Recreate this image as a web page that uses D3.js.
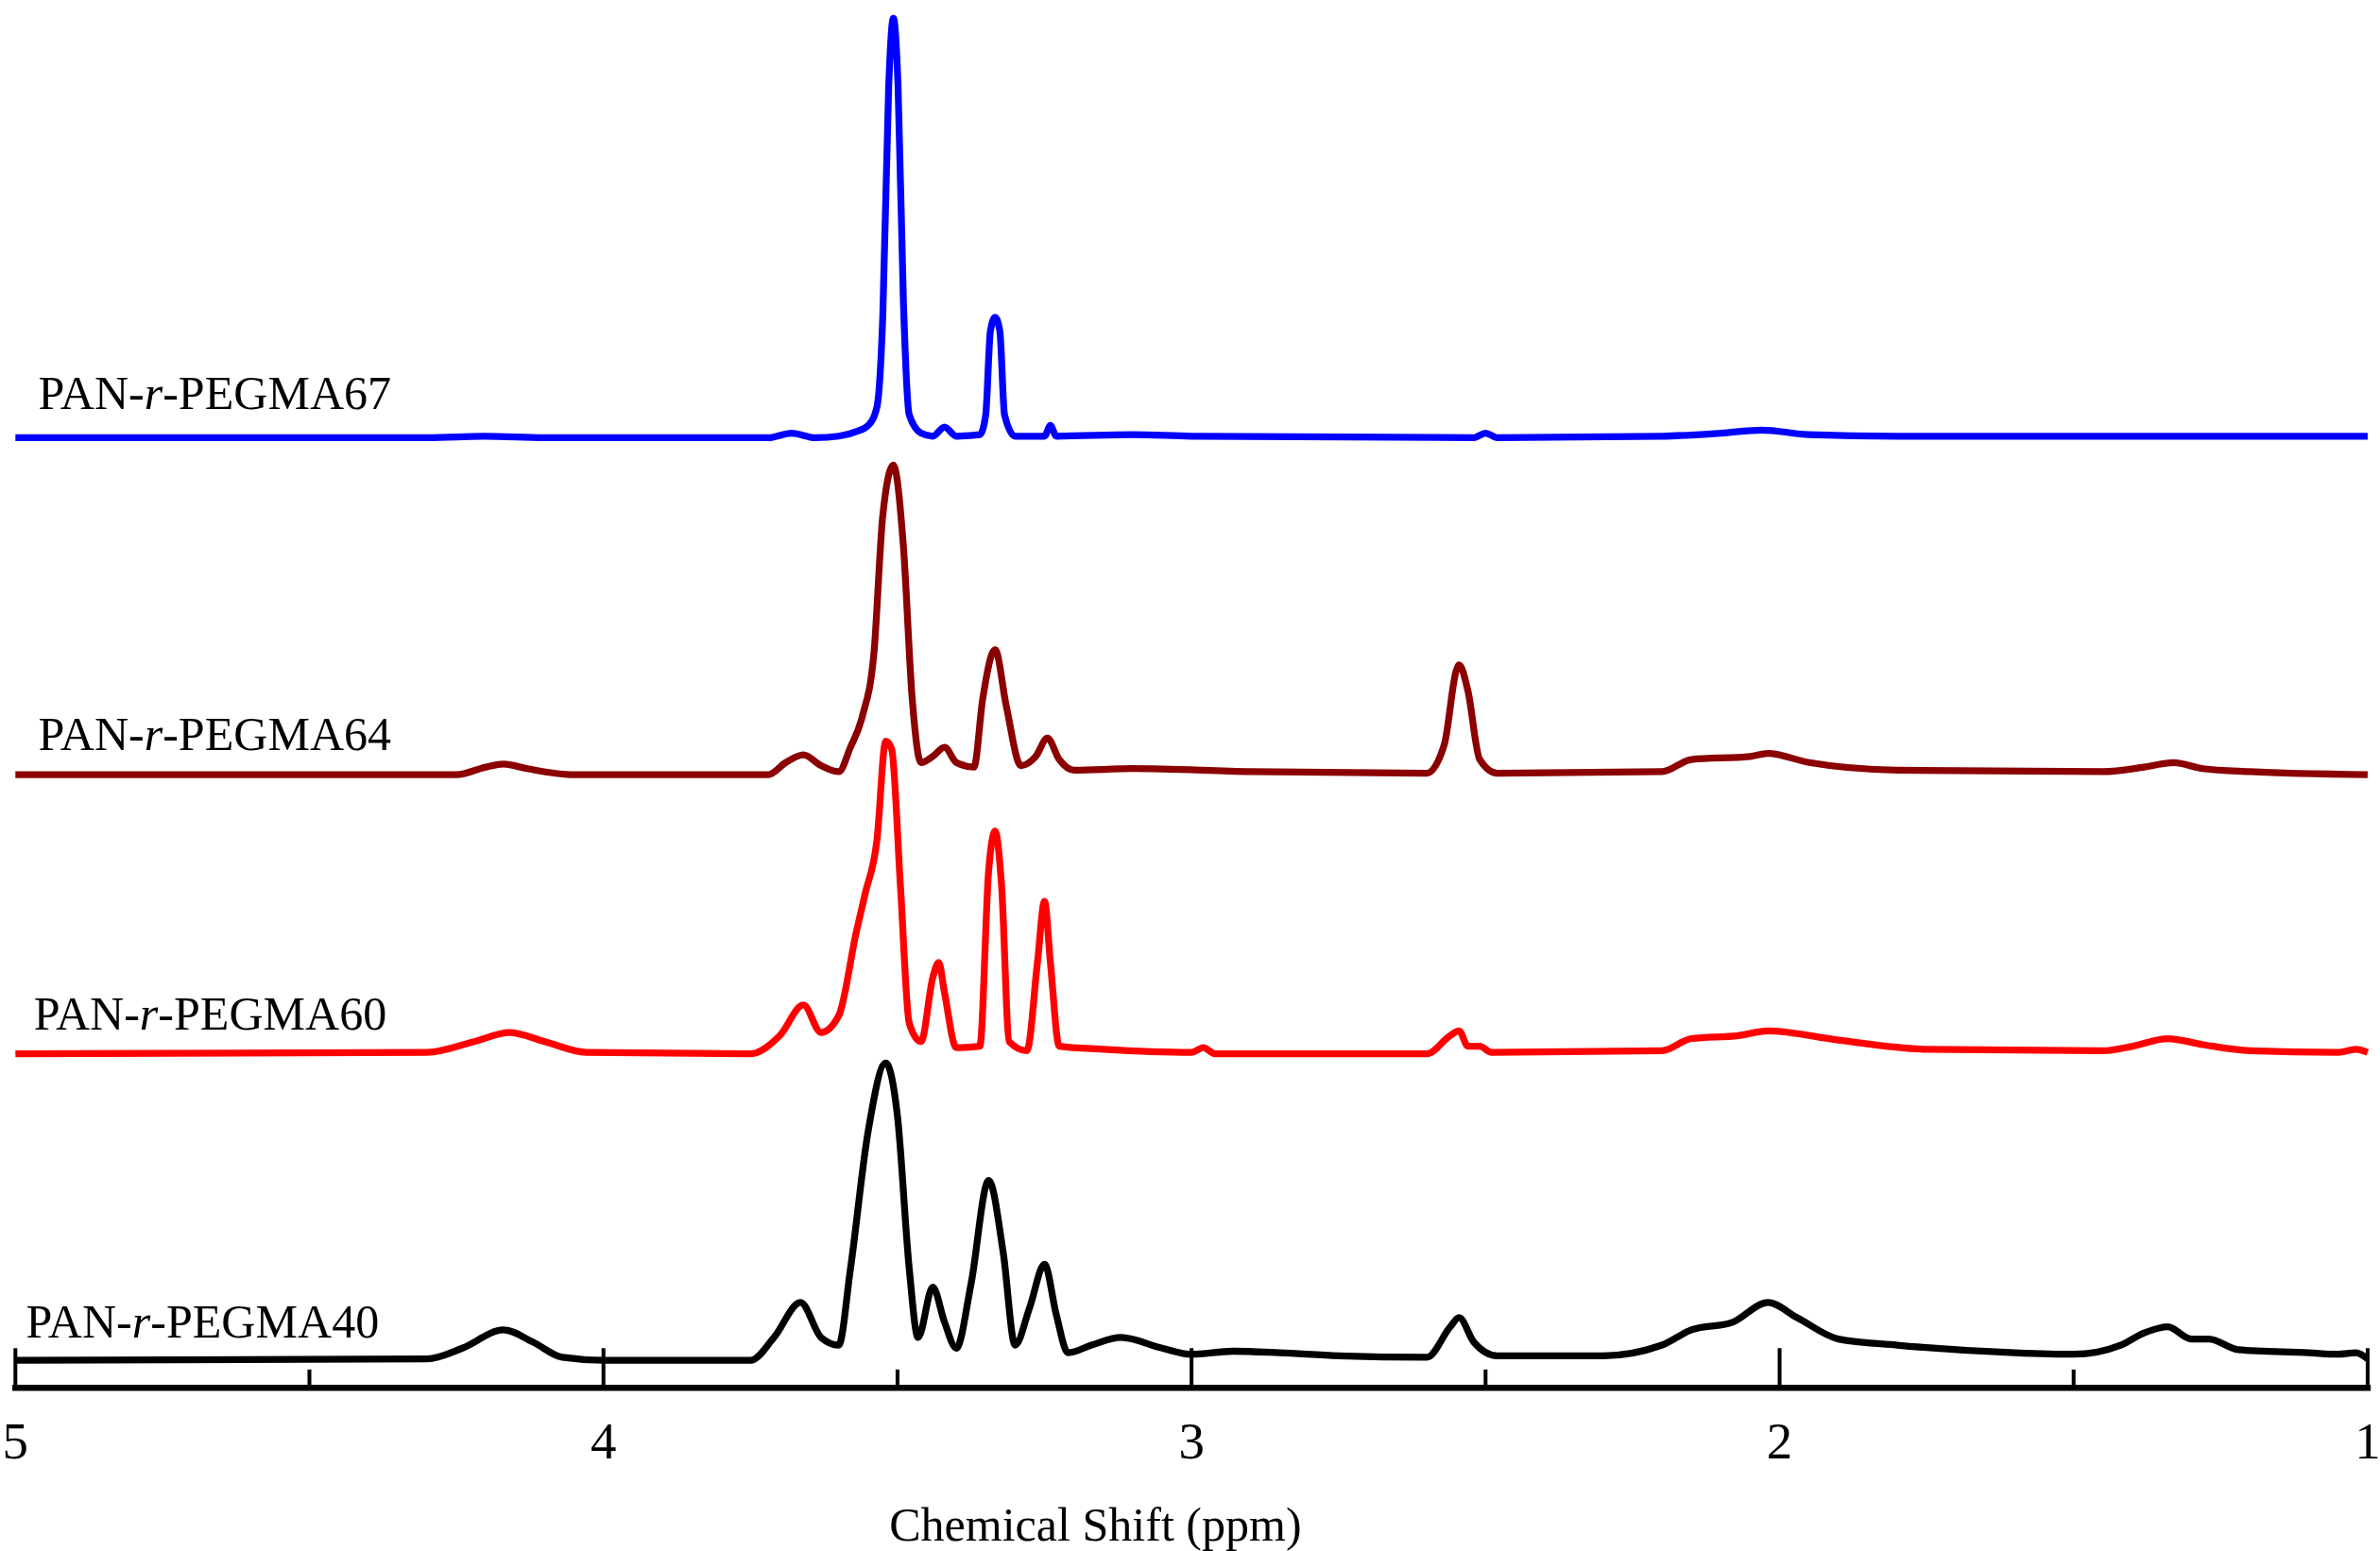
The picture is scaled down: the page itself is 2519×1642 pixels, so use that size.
<!DOCTYPE html>
<html><head><meta charset="utf-8">
<script src="https://cdn.jsdelivr.net/npm/d3@7"></script>
<style>body{margin:0;background:#fff}</style></head>
<body><svg id="c" width="2519" height="1642" viewBox="0 0 1560 1017"></svg>
<script>
const tickValues=[5,4,3,2,1];
const minorTicks=[4.5,3.5,2.5,1.5];
const seriesNames=["PAN-r-PEGMA67","PAN-r-PEGMA64","PAN-r-PEGMA60","PAN-r-PEGMA40"];
const seriesColors=["#0000ff","#8b0000","#ff0000","#000000"];
const blue=[[5,0],[4.3,0],[4.2,1],[4.1,0],[3.72,0],[3.68,3],[3.64,0],[3.6,1],[3.57,4],[3.55,8],[3.535,20],[3.525,80],[3.515,230],[3.507,275],[3.499,230],[3.49,90],[3.48,15],[3.46,3],[3.44,1],[3.42,7],[3.40,1],[3.36,2],[3.35,15],[3.342,70],[3.334,79],[3.326,70],[3.318,15],[3.30,1],[3.25,1],[3.24,8],[3.23,1],[3.1,2],[3,1],[2.52,0],[2.5,3],[2.48,0],[2.2,1],[2.1,3],[2.03,5],[1.95,2],[1.8,1],[1,1]];
const darkred=[[5,0],[4.25,0],[4.2,5],[4.17,7],[4.13,4],[4.05,0],[3.72,0],[3.69,8],[3.66,13],[3.63,6],[3.6,2],[3.58,18],[3.56,38],[3.54,80],[3.525,170],[3.507,203],[3.49,150],[3.475,50],[3.46,8],[3.44,12],[3.42,18],[3.40,8],[3.37,5],[3.355,50],[3.334,82],[3.315,45],[3.29,6],[3.265,12],[3.245,24],[3.225,10],[3.2,3],[3.1,4],[2.9,2],[2.6,1],[2.57,20],[2.55,68],[2.545,72],[2.53,55],[2.51,10],[2.48,1],[2.2,2],[2.15,10],[2.05,12],[2.02,14],[1.95,8],[1.8,3],[1.45,2],[1.38,5],[1.33,8],[1.28,4],[1.2,2],[1,0]];
const red=[[5,0],[4.3,1],[4.22,8],[4.16,14],[4.1,8],[4.03,1],[3.75,0],[3.7,12],[3.66,32],[3.63,14],[3.6,25],[3.57,80],[3.555,105],[3.535,140],[3.52,205],[3.51,200],[3.495,110],[3.48,20],[3.46,8],[3.44,50],[3.43,60],[3.42,40],[3.40,4],[3.36,5],[3.345,120],[3.334,146],[3.323,110],[3.31,8],[3.28,2],[3.262,60],[3.25,100],[3.24,60],[3.225,5],[3.15,3],[3.0,1],[2.98,4],[2.96,0],[2.6,0],[2.56,12],[2.545,15],[2.53,5],[2.51,5],[2.49,1],[2.2,2],[2.15,10],[2.07,12],[2.02,15],[1.9,9],[1.75,3],[1.45,2],[1.4,5],[1.34,10],[1.28,6],[1.2,2],[1.05,1],[1.02,3],[1,1]];
const black=[[5,0],[4.3,1],[4.24,8],[4.17,20],[4.12,12],[4.07,2],[4.0,0],[3.75,0],[3.71,15],[3.665,38],[3.63,15],[3.6,10],[3.58,60],[3.55,150],[3.52,195],[3.5,160],[3.48,60],[3.465,15],[3.44,48],[3.42,25],[3.40,8],[3.375,50],[3.345,118],[3.32,70],[3.3,10],[3.275,35],[3.25,63],[3.23,30],[3.21,5],[3.17,10],[3.12,15],[3.05,8],[3.0,4],[2.93,6],[2.85,5],[2.75,3],[2.6,2],[2.56,22],[2.545,28],[2.52,12],[2.48,3],[2.3,3],[2.2,10],[2.15,20],[2.08,25],[2.02,38],[1.97,28],[1.9,14],[1.8,10],[1.6,5],[1.5,4],[1.42,10],[1.38,18],[1.34,22],[1.3,14],[1.27,14],[1.22,7],[1.1,5],[1.05,4],[1.02,5],[1,1]];
const seriesData=[blue,darkred,red,black];
const offsets=[287,508,691,892];
const labelPos=[[25,268],[25,492],[22,675],[17,877]];

const svg=d3.select("#c");
const x=d3.scaleLinear().domain([5,1]).range([10,1552]);
const y=d3.scaleLinear().domain([0,100]).range([0,-100]);
const font="'Liberation Serif','Times New Roman',serif";
seriesData.forEach((d,i)=>{
  const g=svg.append("g").attr("transform",`translate(0,${offsets[i]})`);
  g.append("path").datum(d).attr("fill","none").attr("stroke",seriesColors[i])
   .attr("stroke-width",4.5).attr("stroke-linejoin","round")
   .attr("d",d3.line().x(p=>x(p[0])).y(p=>y(p[1])).curve(d3.curveMonotoneX));
  const [a,b]=seriesNames[i].split("-r-");
  const t=svg.append("text").attr("x",labelPos[i][0]).attr("y",labelPos[i][1])
   .attr("font-family",font).attr("font-size",31).attr("fill","#000");
  t.append("tspan").text(a+"-");
  t.append("tspan").attr("font-style","italic").text("r");
  t.append("tspan").text("-"+b);
});
const ax=svg.append("g").attr("transform","translate(0,910)");
ax.append("line").attr("x1",8).attr("x2",1554).attr("stroke","#000").attr("stroke-width",4);
ax.selectAll(".mj").data(tickValues).join("line").attr("x1",d=>x(d)).attr("x2",d=>x(d))
  .attr("y1",0).attr("y2",-26).attr("stroke","#000").attr("stroke-width",2.5);
ax.selectAll(".mn").data(minorTicks).join("line").attr("x1",d=>x(d)).attr("x2",d=>x(d))
  .attr("y1",0).attr("y2",-12).attr("stroke","#000").attr("stroke-width",2.5);
ax.selectAll(".tl").data(tickValues).join("text").attr("x",d=>x(d)).attr("y",46)
  .attr("text-anchor","middle").attr("font-family",font).attr("font-size",34).text(d=>d);
svg.append("text").attr("x",718).attr("y",1010).attr("text-anchor","middle")
  .attr("font-family",font).attr("font-size",31).text("Chemical Shift (ppm)");
</script></body></html>
